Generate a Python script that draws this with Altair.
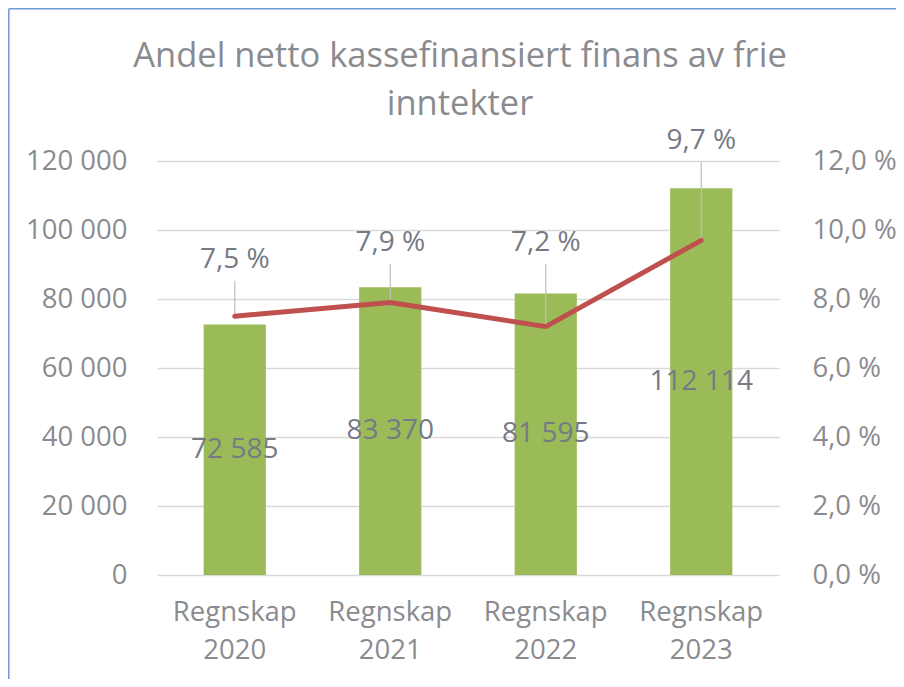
import altair as alt
import pandas as pd

# ---- data ----
categories = ["Regnskap 2020", "Regnskap 2021", "Regnskap 2022", "Regnskap 2023"]
amounts = [72585, 83370, 81595, 112114]          # bars (left axis)
shares = [7.5, 7.9, 7.2, 9.7]                     # line, percent (right axis)
share_label_at = [9.13, 9.62, 9.62, 12.58]        # where the % labels sit (percent scale)

left_ticks = [0, 20000, 40000, 60000, 80000, 100000, 120000]
right_ticks = [0, 2, 4, 6, 8, 10, 12]
title_lines = ["Andel netto kassefinansiert finans av frie", "inntekter"]

df = pd.DataFrame({"cat": categories, "amount": amounts, "share": shares,
                   "label_at": share_label_at})

FONT = "Open Sans"
AXC = "#8A8B8F"
LBLC = "#767A85"
BORDER = "#6F9AD8"

x = alt.X("cat:N", sort=categories, title=None,
          scale=alt.Scale(paddingInner=0.6, paddingOuter=0.3),
          axis=alt.Axis(labelExpr="split(datum.label, ' ')", labelAngle=0,
                        labelFontSize=27.5, labelColor=AXC, labelFont=FONT,
                        labelLineHeight=38, labelPadding=23,
                        domain=False, ticks=False, grid=False))

left_scale = alt.Scale(domain=[0, 120000], nice=False, zero=True)
right_scale = alt.Scale(domain=[0, 12], nice=False, zero=True)

bars = alt.Chart(df).mark_bar(color="#9BBB59").encode(
    x=x,
    y=alt.Y("amount:Q", scale=left_scale, title=None,
            axis=alt.Axis(orient="left", values=left_ticks,
                          labelExpr="replace(format(datum.value, ','), ',', ' ')",
                          labelFontSize=27.5, labelColor=AXC, labelFont=FONT,
                          labelPadding=30, grid=True, gridColor="#D9D9D9",
                          gridWidth=1.3, domain=False, ticks=False)),
)

bar_text = alt.Chart(df).transform_calculate(
    mid="datum.amount / 2",
    txt="replace(format(datum.amount, ','), ',', ' ')",
).mark_text(font=FONT, fontSize=28, color=LBLC, baseline="middle").encode(
    x=x,
    y=alt.Y("mid:Q", scale=left_scale, axis=None),
    text="txt:N",
)

leaders = alt.Chart(df).transform_calculate(
    top="datum.label_at - 0.6"
).mark_rule(color="#BFBFBF", strokeWidth=1.2).encode(
    x=x,
    y=alt.Y("share:Q", scale=right_scale, axis=None),
    y2="top:Q",
)

line = alt.Chart(df).mark_line(color="#C0504D", strokeWidth=5,
                               strokeCap="round", strokeJoin="round").encode(
    x=x,
    y=alt.Y("share:Q", scale=right_scale, title=None,
            axis=alt.Axis(orient="right", values=right_ticks,
                          labelExpr="replace(format(datum.value, '.1f'), '.', ',') + ' %'",
                          labelFontSize=27.5, labelColor=AXC, labelFont=FONT,
                          labelPadding=33, grid=False, domain=False, ticks=False)),
)

pct_text = alt.Chart(df).transform_calculate(
    txt="replace(format(datum.share, '.1f'), '.', ',') + ' %'"
).mark_text(font=FONT, fontSize=28, color=LBLC, baseline="middle").encode(
    x=x,
    y=alt.Y("label_at:Q", scale=right_scale, axis=None),
    text="txt:N",
)

# chart-area frame (left and top edge visible in the reference)
frame_left = alt.Chart(df.head(1)).mark_rule(color=BORDER, strokeWidth=1.5).encode(
    x=alt.value(-148.2), y=alt.value(-152.2), y2=alt.value(540)
)
frame_top = alt.Chart(df.head(1)).mark_rule(color=BORDER, strokeWidth=1.5).encode(
    x=alt.value(-148.2), x2=alt.value(760), y=alt.value(-152.2)
)

chart = alt.layer(bars, bar_text, leaders, line, pct_text,
                  frame_left, frame_top).resolve_scale(
    y="independent"
).properties(
    width=622,
    height=414,
    padding={"left": 149, "top": 153, "right": 117, "bottom": 104},
    autosize=alt.AutoSizeParams(type="none"),
    title=alt.TitleParams(text=title_lines, fontSize=34.5, font=FONT,
                          fontWeight="normal", color=AXC, anchor="middle",
                          dx=-8, dy=114, offset=0, lineHeight=48),
    background="white",
).configure_view(stroke=None)

chart.save("out.html", embed_options={"renderer": "svg", "actions": False})
